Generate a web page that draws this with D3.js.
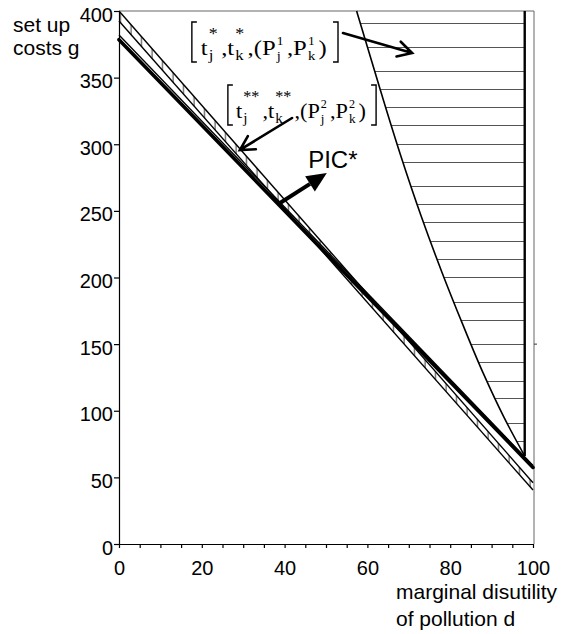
<!DOCTYPE html>
<html>
<head>
<meta charset="utf-8">
<script src="https://cdn.jsdelivr.net/npm/d3@7"></script>
<style>
  body { margin: 0; background: #fff; }
  svg { display: block; }
</style>
</head>
<body>
<div id="chart"></div>
<script>
// axis values
const xLabels = [0, 20, 40, 60, 80, 100];
const xMinorTicks = [0, 5, 10, 15, 20, 25, 30, 35, 40, 45, 50, 55, 60, 65, 70, 75, 80, 85, 90, 95, 100];
const yLabels = [0, 50, 100, 150, 200, 250, 300, 350, 400];

// lines, as [d, g]
const bandUpper = [[0, 400], [100, 46]];
const bandLower = [[0, 392.5], [100, 40.5]];
const picLine = [[0, 378.5], [100, 57.5]];
const picThin = [[0, 382], [100, 59]];

// left boundary of the [t*j, t*k] region
const boundaryCurve = [[57.4, 400], [63, 342], [68, 292], [73, 246], [78, 204], [83, 165], [88, 128], [93, 95], [98, 66]];
const boundaryRight = 98;
const hatchLevels = [391.2, 373.2, 355, 341.5, 328, 314.5, 300.4, 286.7, 268.7, 255.2, 241.7, 227.4, 213.9,
    200.4, 181.6, 168.1, 150.1, 136.6, 122.3, 109.6, 90.8, 77.3];

// annotation anchors [d, g]: left bracket / baseline, right bracket d
const label1At = [17.6, 367, 52.9];
const label2At = [26.3, 319.7, 62.1];
const arrow1 = [[54.1, 383.5], [70.8, 368.5]];
const arrow2 = [[41.8, 319.7], [29.2, 295.7]];
const arrow3 = [[38.9, 255.9], [50.2, 278.4]];
const picLabelAt = [45.7, 282.2];

const width = 575, height = 634;
const margin = { top: 11, right: 42, bottom: 90, left: 119 };

const sans = "'Liberation Sans', Arial, sans-serif";
const serif = "'Liberation Serif', 'Times New Roman', serif";

const svg = d3.select("#chart").append("svg")
    .attr("width", width)
    .attr("height", height);

const x = d3.scaleLinear().domain([0, 100]).range([margin.left, width - margin.right]);
const y = d3.scaleLinear().domain([0, 400]).range([height - margin.bottom, margin.top]);

const line = d3.line().x(d => x(d[0])).y(d => y(d[1]));

const defs = svg.append("defs");

// vertical hatching for the band
const pat = defs.append("pattern")
    .attr("id", "vhatch")
    .attr("patternUnits", "userSpaceOnUse")
    .attr("width", 10.5)
    .attr("height", 10);
pat.append("line")
    .attr("x1", 5).attr("x2", 5)
    .attr("y1", 0).attr("y2", 10)
    .attr("stroke", "#333")
    .attr("stroke-width", 1);

// region to the right of the curve
const regionPts = boundaryCurve.concat([[boundaryRight, boundaryCurve[boundaryCurve.length - 1][1]], [boundaryRight, 400]]);
defs.append("clipPath").attr("id", "regionClip")
    .append("path")
    .attr("d", line(regionPts) + "Z");

// frame
svg.append("line")
    .attr("x1", x(0)).attr("x2", x(100) + 1)
    .attr("y1", y(400)).attr("y2", y(400))
    .attr("stroke", "#666").attr("stroke-width", 1);
svg.append("line")
    .attr("x1", x(100) + 1).attr("x2", x(100) + 1)
    .attr("y1", y(400)).attr("y2", y(0))
    .attr("stroke", "#666").attr("stroke-width", 1);
svg.append("line")
    .attr("x1", x(100) + 1).attr("x2", x(100) + 4)
    .attr("y1", y(150)).attr("y2", y(150))
    .attr("stroke", "#333").attr("stroke-width", 1);

// horizontal hatching
svg.append("g")
    .attr("clip-path", "url(#regionClip)")
    .selectAll("line")
    .data(hatchLevels)
    .enter().append("line")
    .attr("x1", x(50)).attr("x2", x(boundaryRight) + 2)
    .attr("y1", d => Math.round(y(d)) + 0.5)
    .attr("y2", d => Math.round(y(d)) + 0.5)
    .attr("stroke", "#555")
    .attr("stroke-width", 1.2);

svg.append("path")
    .attr("d", d3.line().x(d => x(d[0])).y(d => y(d[1])).curve(d3.curveMonotoneY)(boundaryCurve))
    .attr("fill", "none")
    .attr("stroke", "#000")
    .attr("stroke-width", 1.6);

svg.append("line")
    .attr("x1", x(boundaryRight)).attr("x2", x(boundaryRight))
    .attr("y1", y(400)).attr("y2", y(boundaryCurve[boundaryCurve.length - 1][1]))
    .attr("stroke", "#000")
    .attr("stroke-width", 2.4);

// hatched band
svg.append("path")
    .attr("d", line(bandUpper.concat(bandLower.slice().reverse())) + "Z")
    .attr("fill", "url(#vhatch)")
    .attr("stroke", "none");

[bandUpper, bandLower].forEach(pts => {
    svg.append("path")
        .attr("d", line(pts))
        .attr("fill", "none")
        .attr("stroke", "#000")
        .attr("stroke-width", 1.4);
});

svg.append("path")
    .attr("d", line(picThin))
    .attr("fill", "none")
    .attr("stroke", "#000")
    .attr("stroke-width", 1.4);

svg.append("path")
    .attr("d", line(picLine))
    .attr("fill", "none")
    .attr("stroke", "#000")
    .attr("stroke-width", 3.6)
    .attr("stroke-linecap", "round");

// axes
const yAxis = svg.append("g")
    .attr("transform", `translate(${x(0)},0)`)
    .call(d3.axisLeft(y).tickValues(yLabels).tickSize(5).tickSizeOuter(0).tickPadding(1).tickFormat(d3.format("d")));

const xAxis = svg.append("g")
    .attr("transform", `translate(0,${y(0)})`)
    .call(d3.axisBottom(x).tickValues(xMinorTicks).tickSize(4).tickSizeOuter(0)
        .tickFormat(d => xLabels.includes(d) ? d : "").tickPadding(13));

[xAxis, yAxis].forEach(a => {
    a.select(".domain").attr("stroke", "#000").attr("stroke-width", 1.2);
    a.selectAll(".tick line").attr("stroke", "#000").attr("stroke-width", 1.2);
    a.selectAll(".tick text")
        .attr("fill", "#000")
        .style("font-family", sans)
        .style("font-size", "20px");
});
yAxis.selectAll(".tick text").attr("dy", "0.5em");

// axis titles
const titles = [
    { t: "set up", x: 13, y: 32 },
    { t: "costs g", x: 13, y: 55 },
    { t: "marginal disutility", x: 396, y: 599 },
    { t: "of pollution d", x: 396, y: 626 }
];
svg.selectAll(".title")
    .data(titles)
    .enter().append("text")
    .attr("class", "title")
    .attr("x", d => d.x)
    .attr("y", d => d.y)
    .style("font-family", sans)
    .style("font-size", "21px")
    .attr("fill", "#000")
    .text(d => d.t);

// bracketed labels, one text element with positioned tspans
function tLabel(at, sup, num) {
    const tokens = [
        { base: "t", sup: sup, sub: "j", supDy: -16, supSize: 16, subSize: 15 },
        { base: "," },
        { base: "t", sup: sup, sub: "k", supDy: -16, supSize: 16, subSize: 15 },
        { base: ",(" },
        { base: "P", sup: num, sub: "j", supDy: -10, supSize: 12, subSize: 13 },
        { base: "," },
        { base: "P", sup: num, sub: "k", supDy: -10, supSize: 12, subSize: 13 },
        { base: ")" }
    ];
    const bx = x(at[0]), base = y(at[1]), target = x(at[2]);
    const outer = svg.append("g");
    const txt = outer.append("text")
        .attr("fill", "#000")
        .style("font-family", serif)
        .style("font-size", "22px");
    let cx = 8;
    tokens.forEach(tk => {
        const t = txt.append("tspan")
            .attr("x", cx).attr("y", 0)
            .text(tk.base);
        cx += t.node().getComputedTextLength();
        if (tk.sup) {
            const s = txt.append("tspan")
                .attr("x", cx + 1).attr("y", tk.supDy)
                .style("font-size", tk.supSize + "px")
                .text(tk.sup);
            const b = txt.append("tspan")
                .attr("x", cx + 1).attr("y", 5)
                .style("font-size", tk.subSize + "px")
                .text(tk.sub);
            cx += Math.max(s.node().getComputedTextLength(), b.node().getComputedTextLength()) + 4;
        }
    });
    const rx = cx + 10;
    // stretch horizontally to the reference width
    const k = (target - bx) / rx;
    txt.attr("transform", `translate(${bx},${base}) scale(${k},1)`);
    const top = base - 33, bot = base + 7;
    outer.append("path")
        .attr("d", `M${bx + 5},${top}H${bx}V${bot}H${bx + 5}M${target - 5},${top}H${target}V${bot}H${target - 5}`)
        .attr("fill", "none")
        .attr("stroke", "#000")
        .attr("stroke-width", 1.4);
}
tLabel(label1At, "*", "1");
tLabel(label2At, "**", "2");

// open arrows
function openArrow(pts) {
    const x1 = x(pts[0][0]), y1 = y(pts[0][1]), x2 = x(pts[1][0]), y2 = y(pts[1][1]);
    const ang = Math.atan2(y2 - y1, x2 - x1);
    const len = 16, spread = 0.5;
    const h1 = [x2 - len * Math.cos(ang - spread), y2 - len * Math.sin(ang - spread)];
    const h2 = [x2 - len * Math.cos(ang + spread), y2 - len * Math.sin(ang + spread)];
    svg.append("path")
        .attr("d", `M${x1},${y1}L${x2},${y2}M${h1[0]},${h1[1]}L${x2},${y2}L${h2[0]},${h2[1]}`)
        .attr("fill", "none")
        .attr("stroke", "#000")
        .attr("stroke-width", 2.6)
        .attr("stroke-linecap", "round")
        .attr("stroke-linejoin", "miter");
}
openArrow(arrow1);
openArrow(arrow2);

// PIC* arrow
(function () {
    const x1 = x(arrow3[0][0]), y1 = y(arrow3[0][1]), x2 = x(arrow3[1][0]), y2 = y(arrow3[1][1]);
    const ang = Math.atan2(y2 - y1, x2 - x1);
    const len = 20, half = 9;
    const bxp = x2 - len * Math.cos(ang), byp = y2 - len * Math.sin(ang);
    svg.append("line")
        .attr("x1", x1).attr("y1", y1).attr("x2", bxp).attr("y2", byp)
        .attr("stroke", "#000").attr("stroke-width", 4);
    const p1 = [bxp + half * Math.sin(ang), byp - half * Math.cos(ang)];
    const p2 = [bxp - half * Math.sin(ang), byp + half * Math.cos(ang)];
    svg.append("path")
        .attr("d", `M${x2},${y2}L${p1[0]},${p1[1]}L${p2[0]},${p2[1]}Z`)
        .attr("fill", "#000");
})();

svg.append("text")
    .attr("x", x(picLabelAt[0]))
    .attr("y", y(picLabelAt[1]))
    .style("font-family", sans)
    .style("font-size", "24px")
    .attr("fill", "#000")
    .text("PIC*");
</script>
</body>
</html>
